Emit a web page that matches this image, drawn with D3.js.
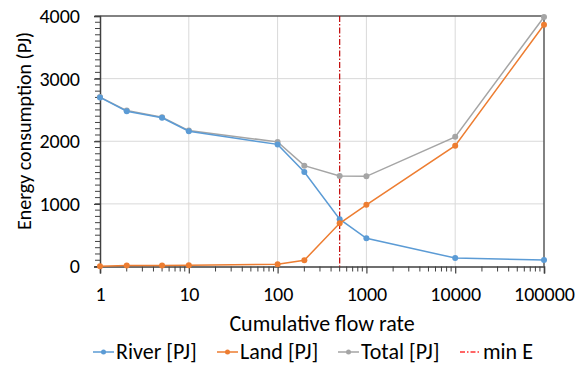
<!DOCTYPE html>
<html>
<head>
<meta charset="utf-8">
<script src="https://cdn.jsdelivr.net/npm/d3@7"></script>
<style>
  body { margin: 0; background: #fff; }
  svg { font-family: Carlito, Lato, "Liberation Sans", sans-serif; }
</style>
</head>
<body>
<svg id="chart" width="582" height="365"></svg>
<script>
const flowRates = [1, 2, 5, 10, 100, 200, 500, 1000, 10000, 100000];
const river = [2700, 2480, 2375, 2160, 1950, 1510, 755, 450, 135, 105];
const land = [5, 15, 15, 20, 35, 100, 690, 985, 1930, 3860];
const total = [2705, 2490, 2385, 2170, 1990, 1610, 1445, 1440, 2070, 3985];
const minE = 500;
const xTicks = [1, 10, 100, 1000, 10000, 100000];
const yTicks = [0, 1000, 2000, 3000, 4000];

const series = [
    { name: "River [PJ]", values: river, color: "#5B9BD5" },
    { name: "Land [PJ]", values: land, color: "#ED7D31" },
    { name: "Total [PJ]", values: total, color: "#A5A5A5" }
];

const svg = d3.select("#chart");
const plotLeft = 100, plotRight = 544, plotTop = 16, plotBottom = 266.5;

const x = d3.scaleLog().domain([1, 100000]).range([plotLeft, plotRight]);
const y = d3.scaleLinear().domain([0, 4000]).range([plotBottom, plotTop]);

// gridlines
svg.append("g")
    .selectAll("line")
    .data(yTicks.slice(1, -1))
    .enter()
    .append("line")
    .attr("x1", plotLeft).attr("x2", plotRight)
    .attr("y1", d => y(d)).attr("y2", d => y(d))
    .attr("stroke", "#d9d9d9").attr("stroke-width", 1);
svg.append("g")
    .selectAll("line")
    .data(xTicks.slice(1, -1))
    .enter()
    .append("line")
    .attr("y1", plotTop).attr("y2", plotBottom)
    .attr("x1", d => x(d)).attr("x2", d => x(d))
    .attr("stroke", "#d9d9d9").attr("stroke-width", 1);

// top / right frame
svg.append("path")
    .attr("d", `M${plotLeft},${plotTop}H${plotRight}V${plotBottom}`)
    .attr("fill", "none")
    .attr("stroke", "#595959")
    .attr("stroke-width", 1.5);

// y minor ticks
const yMinor = d3.range(0, 4001, 100);
svg.append("g")
    .selectAll("line")
    .data(yMinor)
    .enter()
    .append("line")
    .attr("x1", plotLeft - 5).attr("x2", plotLeft)
    .attr("y1", d => y(d)).attr("y2", d => y(d))
    .attr("stroke", "#404040").attr("stroke-width", 1);

// x minor ticks
const xMinor = [];
for (let dec = 1; dec < 100000; dec *= 10) {
    for (let k = 2; k <= 9; k++) xMinor.push(dec * k);
}
svg.append("g")
    .selectAll("line")
    .data(xMinor)
    .enter()
    .append("line")
    .attr("x1", d => x(d)).attr("x2", d => x(d))
    .attr("y1", plotBottom).attr("y2", plotBottom + 5)
    .attr("stroke", "#404040").attr("stroke-width", 1);

// axes
const yAxis = svg.append("g")
    .attr("transform", `translate(${plotLeft},0)`)
    .call(d3.axisLeft(y).tickValues(yTicks).tickSize(6).tickPadding(14).tickFormat(d3.format("d")));
const xAxis = svg.append("g")
    .attr("transform", `translate(0,${plotBottom})`)
    .call(d3.axisBottom(x).tickValues(xTicks).tickSize(7).tickPadding(13).tickFormat(d3.format("d")));
[yAxis, xAxis].forEach(a => {
    a.select(".domain").attr("stroke", "#404040").attr("stroke-width", 1.5);
    a.selectAll(".tick line").attr("stroke", "#404040").attr("stroke-width", 1.2);
    a.selectAll("text").attr("font-size", 20).attr("fill", "#000")
        .attr("font-family", "Carlito, Lato, sans-serif");
});

// min E line
svg.append("line")
    .attr("x1", x(minE)).attr("x2", x(minE))
    .attr("y1", plotTop).attr("y2", plotBottom)
    .attr("stroke", "#C00000")
    .attr("stroke-width", 1.2)
    .attr("stroke-dasharray", "6,2,1.5,2");

// series lines and markers (total drawn underneath)
const line = d3.line()
    .x((d, i) => x(flowRates[i]))
    .y(d => y(d));
[series[2], series[0], series[1]].forEach(s => {
    svg.append("path")
        .datum(s.values)
        .attr("d", line)
        .attr("fill", "none")
        .attr("stroke", s.color)
        .attr("stroke-width", 1.5);
    svg.append("g")
        .selectAll("circle")
        .data(s.values)
        .enter()
        .append("circle")
        .attr("cx", (d, i) => x(flowRates[i]))
        .attr("cy", d => y(d))
        .attr("r", 3)
        .attr("fill", s.color);
});

// axis titles
svg.append("text")
    .attr("x", (plotLeft + plotRight) / 2)
    .attr("y", 331)
    .attr("text-anchor", "middle")
    .attr("font-size", 22)
    .text("Cumulative flow rate");
svg.append("text")
    .attr("transform", `translate(31,131) rotate(-90)`)
    .attr("text-anchor", "middle")
    .attr("font-size", 20)
    .text("Energy consumption (PJ)");

// legend
const legendItems = [
    { name: "River [PJ]", color: "#5B9BD5", x: 93, dash: null, dot: true },
    { name: "Land [PJ]", color: "#ED7D31", x: 217, dash: null, dot: true },
    { name: "Total [PJ]", color: "#A5A5A5", x: 338, dash: null, dot: true },
    { name: "min E", color: "#FF3333", x: 460, dash: "5,2,1.5,2", dot: false }
];
const lg = svg.append("g");
legendItems.forEach(it => {
    lg.append("line")
        .attr("x1", it.x).attr("x2", it.x + 21)
        .attr("y1", 352).attr("y2", 352)
        .attr("stroke", it.color)
        .attr("stroke-width", 1.5)
        .attr("stroke-dasharray", it.dash);
    if (it.dot) {
        lg.append("circle")
            .attr("cx", it.x + 10.5).attr("cy", 352).attr("r", 2.5)
            .attr("fill", it.color);
    }
    lg.append("text")
        .attr("x", it.x + 23)
        .attr("y", 359)
        .attr("font-size", 22)
        .text(it.name);
});
</script>
</body>
</html>
